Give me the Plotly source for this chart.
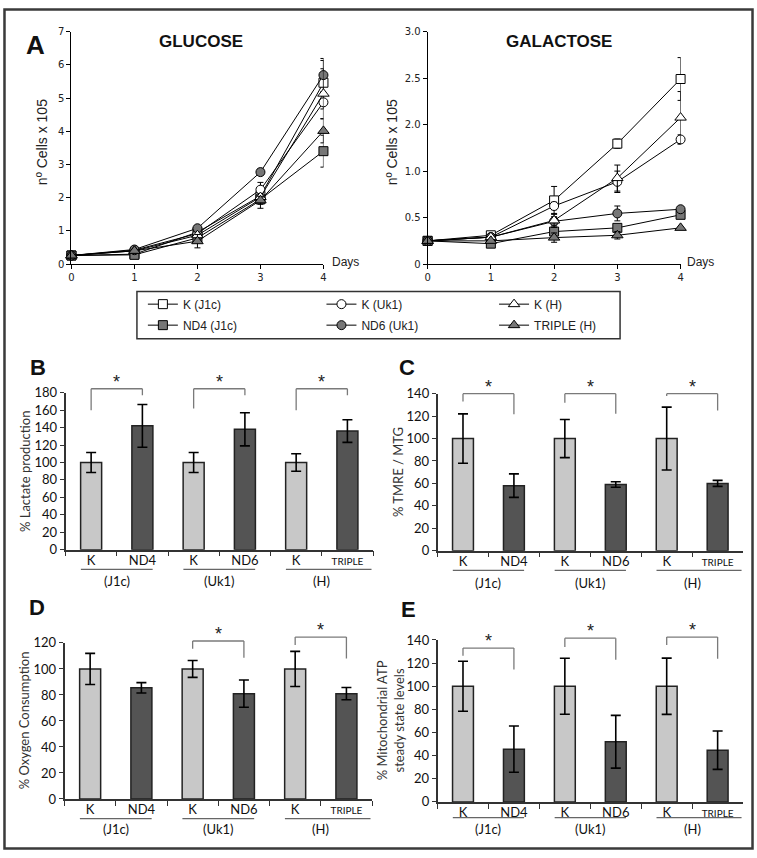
import plotly.graph_objects as go

W, H = 757, 858


def px(x):
    return x / W


def py(y):
    return 1 - y / H


# ---------------- DATA ----------------
days = [0, 1, 2, 3, 4]

# Growth in GLUCOSE (n cells x 10^5)
glu_k_j1c = [0.26, 0.30, 0.96, 2.05, 5.46]
glu_nd4_j1c = [0.26, 0.28, 0.79, 1.95, 3.40]
glu_k_uk1 = [0.26, 0.42, 0.92, 2.24, 4.87]
glu_nd6_uk1 = [0.26, 0.44, 1.08, 2.77, 5.69]
glu_k_h = [0.26, 0.40, 0.87, 2.02, 5.13]
glu_triple_h = [0.26, 0.40, 0.69, 1.92, 4.01]

glu_err_k_j1c = [0.02, 0.03, 0.08, 0.10, 0.67]
glu_err_nd4_j1c = [0.02, 0.03, 0.08, 0.27, 0.48]
glu_err_k_uk1 = [0.02, 0.04, 0.10, 0.22, 0.20]
glu_err_nd6_uk1 = [0.02, 0.04, 0.06, 0.10, 0.50]
glu_err_k_h = [0.02, 0.04, 0.08, 0.10, 0.75]
glu_err_triple_h = [0.02, 0.04, 0.20, 0.12, 0.36]

# Growth in GALACTOSE (values in positions of the printed axis: 0,0.5,1.0,2.0,2.5,3.0)
gal_k_j1c = [0.50, 0.62, 1.37, 2.59, 3.98]
gal_nd4_j1c = [0.50, 0.44, 0.70, 0.78, 1.06]
gal_k_uk1 = [0.50, 0.58, 1.25, 1.77, 2.68]
gal_nd6_uk1 = [0.50, 0.58, 0.92, 1.09, 1.18]
gal_k_h = [0.50, 0.58, 0.94, 1.85, 3.15]
gal_triple_h = [0.50, 0.50, 0.57, 0.62, 0.78]

gal_err_k_j1c = [0.02, 0.03, 0.30, 0.10, 0.46]
gal_err_nd4_j1c = [0.02, 0.03, 0.08, 0.05, 0.04]
gal_err_k_uk1 = [0.02, 0.03, 0.08, 0.23, 0.10]
gal_err_nd6_uk1 = [0.02, 0.03, 0.10, 0.16, 0.04]
gal_err_k_h = [0.02, 0.03, 0.15, 0.28, 0.56]
gal_err_triple_h = [0.02, 0.03, 0.10, 0.08, 0.03]

gal_tick_labels = ["0", "0.5", "1.0", "2.0", "2.5", "3.0"]

series_names = ["K (J1c)", "ND4 (J1c)", "K (Uk1)", "ND6 (Uk1)", "K (H)", "TRIPLE (H)"]

# Bar panels
bar_categories = ["K (J1c)", "ND4 (J1c)", "K (Uk1)", "ND6 (Uk1)", "K (H)", "TRIPLE (H)"]
bar_tick_labels = ["K", "ND4", "K", "ND6", "K", "TRIPLE"]
group_labels = ["(J1c)", "(Uk1)", "(H)"]

lactate_mean = [100, 142, 100, 138, 100, 136]
lactate_err = [11.5, 24.5, 11.5, 19, 10, 13]
tmre_mean = [100, 58, 100, 59, 100, 60]
tmre_err = [22, 10.5, 17, 2.5, 28, 2.7]
oxygen_mean = [100, 85.5, 100, 81, 100, 81]
oxygen_err = [12, 4, 6.5, 10.5, 13.5, 4.7]
atp_mean = [100, 45.6, 100, 52, 100, 44.7]
atp_err = [21.6, 20, 24.2, 22.8, 24.3, 16.6]

# ---------------- STYLE ----------------
GRAY_FILL = "#777777"
LIGHT_BAR = "#c8c8c8"
DARK_BAR = "#545454"
LINEFONT = "Liberation Sans, Arial, sans-serif"
TICKFONT = "DejaVu Sans, Verdana, sans-serif"
BARFONT = "Lato, Carlito, Calibri, sans-serif"

series_style = {
    "K (J1c)": dict(symbol="square", color="white", legend="legend"),
    "ND4 (J1c)": dict(symbol="square", color=GRAY_FILL, legend="legend"),
    "K (Uk1)": dict(symbol="circle", color="white", legend="legend2"),
    "ND6 (Uk1)": dict(symbol="circle", color=GRAY_FILL, legend="legend2"),
    "K (H)": dict(symbol="triangle-up", color="white", legend="legend3"),
    "TRIPLE (H)": dict(symbol="triangle-up", color=GRAY_FILL, legend="legend3"),
}

glu_vals = [glu_k_j1c, glu_nd4_j1c, glu_k_uk1, glu_nd6_uk1, glu_k_h, glu_triple_h]
glu_errs = [glu_err_k_j1c, glu_err_nd4_j1c, glu_err_k_uk1, glu_err_nd6_uk1, glu_err_k_h, glu_err_triple_h]
gal_vals = [gal_k_j1c, gal_nd4_j1c, gal_k_uk1, gal_nd6_uk1, gal_k_h, gal_triple_h]
gal_errs = [gal_err_k_j1c, gal_err_nd4_j1c, gal_err_k_uk1, gal_err_nd6_uk1, gal_err_k_h, gal_err_triple_h]

fig = go.Figure()

for (xa, ya, vals, errs, show) in [("x", "y", glu_vals, glu_errs, True),
                                    ("x2", "y2", gal_vals, gal_errs, False)]:
    for name, v, e in zip(series_names, vals, errs):
        st = series_style[name]
        size = 10 if st["symbol"] == "triangle-up" else 9
        fig.add_trace(go.Scatter(
            x=days, y=v, name=name, xaxis=xa, yaxis=ya,
            mode="lines+markers", cliponaxis=False,
            line=dict(color="black", width=1),
            marker=dict(symbol=st["symbol"], size=size, color=st["color"],
                        line=dict(color="black", width=1)),
            error_y=dict(type="data", array=e, visible=True, color="black",
                         thickness=1, width=3),
            showlegend=show, legend=st["legend"], legendgroup=name,
        ))

bar_panels = [
    ("x3", "y3", lactate_mean, lactate_err),
    ("x4", "y4", tmre_mean, tmre_err),
    ("x5", "y5", oxygen_mean, oxygen_err),
    ("x6", "y6", atp_mean, atp_err),
]
bar_colors = [LIGHT_BAR, DARK_BAR] * 3
for xa, ya, m, e in bar_panels:
    fig.add_trace(go.Bar(
        x=bar_categories, y=m, xaxis=xa, yaxis=ya, width=0.41,
        marker=dict(color=bar_colors, line=dict(color="#222222", width=1.5)),
        error_y=dict(type="data", array=e, visible=True, color="black",
                     thickness=1.6, width=5),
        showlegend=False,
    ))

# ---------------- AXES ----------------
top_dom_y = [py(261), py(24)]
line_axis_common = dict(showgrid=False, zeroline=False, showline=True, linecolor="black",
                        linewidth=1, ticks="outside", ticklen=4, tickcolor="black",
                        tickfont=dict(family=TICKFONT, size=10, color="#222"))

fig.update_layout(
    xaxis=dict(domain=[px(69), px(323)], range=[0, 4], tickvals=days, anchor="y",
               **line_axis_common),
    yaxis=dict(domain=top_dom_y, range=[0, 7], tickvals=list(range(8)), anchor="x",
               **line_axis_common),
    xaxis2=dict(domain=[px(428), px(683)], range=[0, 4], tickvals=days, anchor="y2",
                **line_axis_common),
    yaxis2=dict(domain=top_dom_y, range=[0, 5], tickvals=list(range(6)),
                ticktext=gal_tick_labels, anchor="x2", **line_axis_common),
)

triple_txt = "<span style='font-size:10px'>TRIPLE</span>"
bar_ticktext = bar_tick_labels[:5] + [triple_txt]
bar_x_common = dict(showgrid=False, zeroline=False, showline=True, linecolor="#333",
                    linewidth=1.5, ticks="outside", ticklen=5, tickcolor="#333",
                    tickwidth=1.2, tickson="boundaries", range=[-0.5, 5.5],
                    type="category", categoryorder="array", categoryarray=bar_categories,
                    tickvals=bar_categories, ticktext=bar_ticktext, ticklabelstandoff=-2,
                    tickfont=dict(family=BARFONT, size=13, color="#111"))
bar_y_common = dict(showgrid=False, zeroline=False, showline=True, linecolor="#333",
                    linewidth=1.5, ticks="outside", ticklen=4, tickcolor="#333",
                    tickwidth=1.2, tickfont=dict(family=BARFONT, size=13, color="#111"))

bar_layout = {
    # name: (x domain px, y bottom px, y top px, ymax, dtick)
    "3": ((63, 373), 552, 392, 180, 20),
    "4": ((438, 746), 553, 393, 140, 20),
    "5": ((62, 372), 806, 647, 120, 20),
    "6": ((438, 746), 809, 644, 140, 20),
}
for k, (xd, yb, yt, ymax, dt) in bar_layout.items():
    fig.layout["xaxis" + k] = dict(domain=[px(xd[0]), px(xd[1])], anchor="y" + k, **bar_x_common)
    fig.layout["yaxis" + k] = dict(domain=[py(yb), py(yt)], range=[0, ymax], dtick=dt,
                                   anchor="x" + k, **bar_y_common)

shapes = []
annotations = []
CM = dict(xanchor="center", yanchor="middle", showarrow=False)

# significance brackets: (panel, group, top, left-leg bottom, right-leg bottom, star y)
brackets = [
    ("3", 0, 184.5, 160, 177, 192), ("3", 1, 184.5, 162, 177, 192), ("3", 2, 184.5, 160, 177, 192),
    ("4", 0, 140, 133, 121.6, 146), ("4", 1, 140, 132, 122, 146), ("4", 2, 140, 138, 125, 146),
    ("5", 1, 121.5, 115.5, 108.7, 127), ("5", 2, 124.5, 118.5, 108, 130),
    ("6", 0, 133, 126.4, 114.5, 139), ("6", 1, 141.6, 134, 123, 147.5), ("6", 2, 142.5, 135.7, 123.8, 148.5),
]
ymaxes = {k: v[3] for k, v in bar_layout.items()}
for pnl, g, top, lb, rb, sy in brackets:
    ymax = ymaxes[pnl]
    xr, yr = "x" + pnl, "y" + pnl + " domain"
    xl, xrt = 2 * g, 2 * g + 1
    bl = dict(type="line", xref=xr, yref=yr, line=dict(color="#7a7a7a", width=1.3))
    shapes.append(dict(bl, x0=xl, x1=xrt, y0=top / ymax, y1=top / ymax))
    shapes.append(dict(bl, x0=xl, x1=xl, y0=top / ymax, y1=lb / ymax))
    shapes.append(dict(bl, x0=xrt, x1=xrt, y0=top / ymax, y1=rb / ymax))
    annotations.append(dict(x=2 * g + 0.5, y=sy / ymax, xref=xr, yref=yr, text="*",
                            font=dict(family=LINEFONT, size=18, color="#222"), **CM))

# group underlines + labels: (panel, underline y px, label y px)
group_rows = {"3": (572, 584), "4": (573, 586), "5": (826, 837), "6": (825, 837)}
for pnl, (uy, ly) in group_rows.items():
    for g, lab in enumerate(group_labels):
        x0 = 2 * g - 0.2
        x1 = 2 * g + (1.47 if g == 2 else 1.2)
        shapes.append(dict(type="line", xref="x" + pnl, yref="paper", x0=x0, x1=x1,
                           y0=py(uy), y1=py(uy), line=dict(color="#666", width=1.2)))
        annotations.append(dict(x=2 * g + 0.5, y=py(ly), xref="x" + pnl, yref="paper", text=lab,
                                font=dict(family=BARFONT, size=13, color="#111"), **CM))

# y titles of bar panels
ytitles = [
    ("% Lactate production", 22, 472),
    ("% TMRE / MTG", 398, 473),
    ("% Oxygen Consumption", 22, 726),
    ("% Mitochondrial ATP<br>steady state levels", 391, 726),
]
for t, x, y in ytitles:
    annotations.append(dict(x=px(x), y=py(y), xref="paper", yref="paper", text=t, textangle=-90,
                            font=dict(family=BARFONT, size=13, color="#333"), **CM))

# line-chart titles and labels
for t, x, y in [("GLUCOSE", 200, 34), ("GALACTOSE", 560, 34)]:
    annotations.append(dict(x=px(x), y=py(y), xref="paper", yref="paper", text="<b>%s</b>" % t,
                            font=dict(family=LINEFONT, size=17, color="#111"), **CM))
for x in [40, 393]:
    annotations.append(dict(x=px(x), y=py(137), xref="paper", yref="paper", text="nº Cells x 105",
                            textangle=-90, font=dict(family=LINEFONT, size=14, color="#222"), **CM))
for x in [345, 703]:
    annotations.append(dict(x=px(x), y=py(259), xref="paper", yref="paper", text="Days",
                            font=dict(family=LINEFONT, size=12, color="#222"), **CM))

# panel letters
for t, x, y, s in [("A", 33, 38, 26), ("B", 35, 366, 22), ("C", 407, 366, 22),
                   ("D", 34, 611, 22), ("E", 409, 613, 22)]:
    annotations.append(dict(x=px(x), y=py(y), xref="paper", yref="paper", text="<b>%s</b>" % t,
                            font=dict(family=LINEFONT, size=s, color="#111"), **CM))

# legend box and outer frame
shapes.append(dict(type="rect", xref="paper", yref="paper", x0=px(135), x1=px(622),
                   y0=py(337), y1=py(289), line=dict(color="#333", width=1.5)))
shapes.append(dict(type="rect", xref="paper", yref="paper", x0=px(1.5), x1=px(755.5),
                   y0=py(856.5), y1=py(1.5), line=dict(color="#3a3a3a", width=2.5)))

legend_common = dict(orientation="v", yanchor="top", xanchor="left", bgcolor="rgba(0,0,0,0)",
                     borderwidth=0, tracegroupgap=2, itemwidth=30,
                     font=dict(family=LINEFONT, size=12, color="#222"))
fig.update_layout(
    legend=dict(x=px(141), y=py(287), **legend_common),
    legend2=dict(x=px(321), y=py(287), **legend_common),
    legend3=dict(x=px(495), y=py(287), **legend_common),
)

fig.update_layout(
    width=W, height=H, margin=dict(l=0, r=0, t=0, b=0),
    paper_bgcolor="white", plot_bgcolor="white",
    shapes=shapes, annotations=annotations,
)

fig.write_html("out.html", config={"displayModeBar": False},
               post_script="document.body.style.margin='0';document.body.style.overflow='hidden';")
